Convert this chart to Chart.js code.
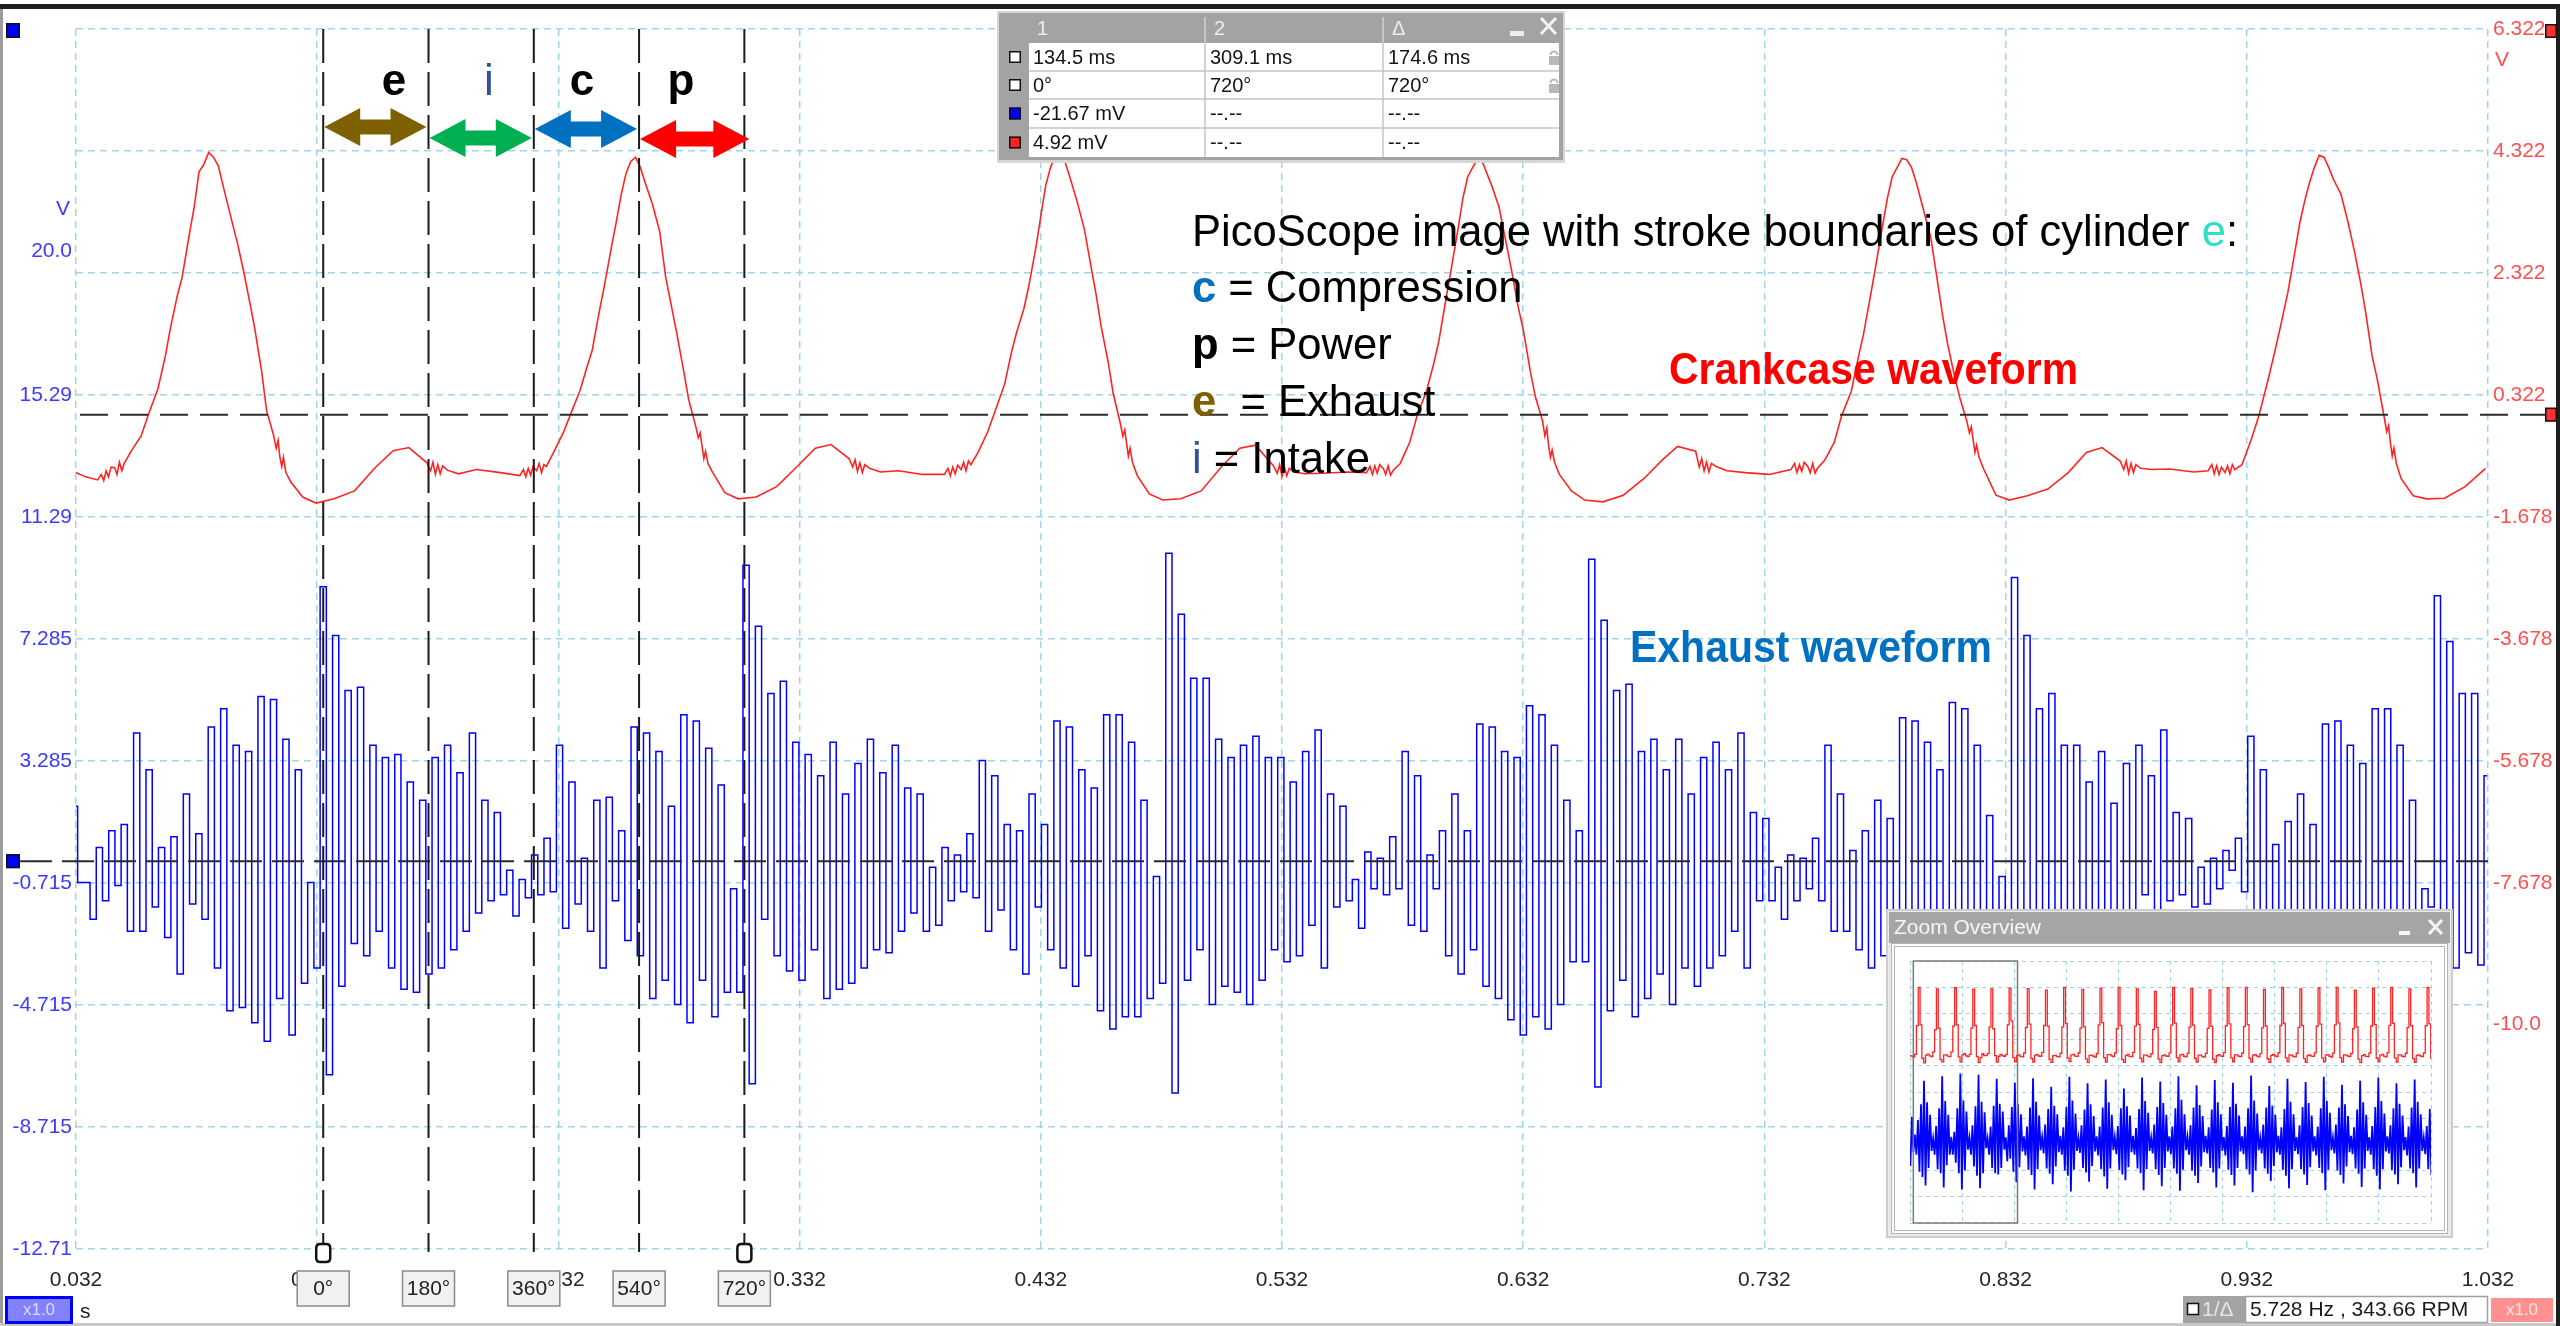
<!DOCTYPE html>
<html><head><meta charset="utf-8">
<script src="https://cdn.jsdelivr.net/npm/chart.js@4.4.1/dist/chart.umd.min.js"></script>
<style>
html,body{margin:0;padding:0;background:#fff;overflow:hidden;}
#wrap{position:relative;width:2560px;height:1326px;}
#main{position:absolute;left:0;top:0;}
#ov{position:absolute;left:1886px;top:909px;}
</style></head><body>
<div id="wrap"><canvas id="main" width="2560" height="1326"></canvas><canvas id="ov" width="567" height="329"></canvas></div>
<script>
// ================= DATA =================
const xTickValues = [0.032,0.132,0.232,0.332,0.432,0.532,0.632,0.732,0.832,0.932,1.032];
const xTickLabels = ['0.032','0.132','0.232','0.332','0.432','0.532','0.632','0.732','0.832','0.932','1.032'];
const blueGridValues = [-12.715,-8.715,-4.715,-0.715,3.285,7.285,11.285,15.285,19.285,23.285,27.285];
const blueGridLabels = ['-12.71','-8.715','-4.715','-0.715','3.285','7.285','11.29','15.29','','',''];
const blueEndValue = 20.0, blueEndLabel = '20.0';
const redTickValues = [6.322,4.322,2.322,0.322,-1.678,-3.678,-5.678,-7.678,-10.0];
const redTickLabels = ['6.322','4.322','2.322','0.322','-1.678','-3.678','-5.678','-7.678','-10.0'];
const unitLabel = 'V';
const cursorTimes = [0.1345,0.17815,0.2218,0.26545,0.3091];
const cursorLabels = ['0°','180°','360°','540°','720°'];

// crankcase (red) waveform: peak times, phase offsets from each peak, values per cycle
const redLeadTimes = [0.0315,0.036];
const redLeadValues = [-0.94,-1.02];
const redPeakTimes = [0.088,0.263,0.439,0.614,0.790,0.963];
const redPhase = [-0.047,-0.0455,-0.0445,-0.0435,-0.0425,-0.0415,-0.040,-0.039,-0.038,-0.037,-0.036,-0.033,-0.029,-0.026,-0.022,-0.019,-0.017,-0.014,-0.012,-0.009,-0.007,-0.005,-0.003,-0.001,0.001,0.003,0.005,0.008,0.011,0.0135,0.016,0.018,0.021,0.023,0.026,0.027,0.0278,0.0285,0.0293,0.030,0.031,0.033,0.038,0.0435,0.051,0.0595,0.068,0.0755,0.082,0.0895,0.091,0.092,0.093,0.094,0.095,0.096,0.098,0.1025,0.110,0.120];
const redCycle1 = [-1.07,-0.98,-1.08,-0.92,-1.02,-0.86,-0.87,-0.98,-0.78,-0.92,-0.80,-0.59,-0.35,0.00,0.43,0.95,1.39,1.95,2.25,2.96,3.40,3.98,4.10,4.30,4.22,4.08,3.75,3.27,2.80,2.35,1.85,1.44,0.70,0.07,-0.35,-0.55,-0.42,-0.69,-0.85,-0.70,-0.95,-1.10,-1.35,-1.45,-1.38,-1.25,-0.87,-0.59,-0.54,-0.79,-0.92,-0.78,-0.98,-0.82,-0.97,-0.84,-0.91,-0.97,-0.90,-0.95];
const redCycle2 = [-1.00,-0.90,-1.02,-0.88,-0.99,-0.85,-0.92,-0.80,-0.95,-0.82,-0.85,-0.62,-0.30,0.00,0.40,0.80,1.05,1.70,2.10,2.75,3.16,3.60,3.95,4.15,4.22,4.05,3.80,3.45,3.00,2.25,1.75,1.35,0.70,0.25,-0.20,-0.38,-0.30,-0.50,-0.72,-0.60,-0.80,-0.95,-1.28,-1.38,-1.35,-1.18,-0.85,-0.55,-0.49,-0.72,-0.86,-0.74,-0.93,-0.79,-0.95,-0.82,-0.88,-0.94,-0.92,-0.98];
const redCycle3 = [-0.98,-0.88,-1.00,-0.86,-0.97,-0.83,-0.90,-0.78,-0.92,-0.76,-0.82,-0.62,-0.28,0.05,0.50,1.05,1.35,1.74,2.10,2.75,3.25,3.75,4.05,4.25,4.28,4.15,3.90,3.50,3.05,2.50,1.95,1.45,0.85,0.35,-0.15,-0.35,-0.25,-0.45,-0.68,-0.55,-0.78,-1.00,-1.30,-1.40,-1.38,-1.25,-0.85,-0.55,-0.50,-0.84,-0.96,-0.82,-1.01,-0.86,-1.00,-0.88,-0.94,-0.97,-0.96,-0.94];
const redCycle4 = [-0.95,-0.85,-0.98,-0.84,-0.96,-0.82,-0.88,-0.98,-0.84,-0.99,-0.92,-0.80,-0.45,-0.02,0.40,0.85,1.20,1.90,2.35,3.05,3.55,3.90,4.05,4.18,4.15,3.95,3.75,3.40,2.80,2.30,1.75,1.40,0.70,0.30,-0.10,-0.35,-0.22,-0.50,-0.70,-0.58,-0.78,-0.98,-1.25,-1.40,-1.43,-1.32,-1.05,-0.75,-0.52,-0.60,-0.86,-0.72,-0.92,-0.78,-0.94,-0.80,-0.85,-0.92,-0.95,-0.98];
const redCycle5 = [-0.90,-0.80,-0.95,-0.82,-0.93,-0.78,-0.85,-0.95,-0.80,-0.96,-0.88,-0.75,-0.45,-0.02,0.38,0.95,1.30,1.95,2.40,3.10,3.55,3.90,4.05,4.20,4.18,4.05,3.80,3.35,2.90,2.25,1.60,1.15,0.60,0.28,-0.12,-0.30,-0.20,-0.40,-0.62,-0.50,-0.70,-0.90,-1.32,-1.40,-1.33,-1.22,-0.95,-0.62,-0.54,-0.76,-0.90,-0.76,-0.96,-0.80,-0.95,-0.82,-0.88,-0.90,-0.89,-0.94];
const redCycle6 = [-0.92,-0.82,-0.97,-0.84,-0.98,-0.86,-0.95,-0.84,-0.97,-0.82,-0.90,-0.82,-0.39,-0.02,0.60,1.10,1.45,2.00,2.45,3.15,3.50,3.80,4.05,4.25,4.22,4.05,3.85,3.62,3.15,2.70,2.20,1.75,0.95,0.60,-0.05,-0.28,-0.18,-0.45,-0.68,-0.55,-0.80,-1.05,-1.33,-1.38,-1.37,-1.18,-0.88];

// exhaust (blue) waveform: uniformly sampled peaks / troughs
const blueStart = 0.03138, blueStep = 0.002578;
const blueCycle0Tail = [1.8,-0.7,-0.7,-1.9,0.45,-1.3,1.0,-0.8,1.2,-2.3,4.2,-2.3,3.0,-1.5,0.45,-2.5,0.8,-3.7,2.2,-1.4,0.9,-1.9,4.4,-3.5,5.0,-4.9,3.8,-4.8,3.6,-5.3,5.4,-5.9,5.3,-4.5,4.0,-5.7,3.0,-4.0,-0.7,-3.5];
const blueCycle1 = [9.0,-7.0,7.4,-4.1,5.6,-2.7,5.7,-3.1,3.8,-2.3,3.4,-3.5,3.5,-4.2,2.6,-4.3,2.0,-3.7,3.4,-3.5,3.8,-2.9,2.9,-2.3,4.2,-1.7,2.0,-1.3,1.6,-1.1,-0.3,-1.8,-0.6,-1.2,0.2,-1.1,0.75,-1.0,3.8,-2.2,2.6,-1.4,0.1,-2.3,2.0,-3.5,2.1,-1.3,1.0,-2.6,4.4,-3.1,4.2,-4.5,3.6,-3.9,1.8,-4.7,4.8,-5.3,4.6,-3.9,3.7,-5.1,2.5,-4.3,-0.9,-4.3];
const blueCycle2 = [9.7,-7.3,7.7,-1.9,5.5,-3.1,5.9,-3.6,3.9,-3.9,3.5,-2.9,2.8,-4.5,3.9,-4.2,2.2,-4.0,3.2,-3.5,4.0,-2.9,2.9,-3.0,3.8,-2.3,2.4,-1.7,2.2,-2.3,-0.2,-2.1,0.45,-1.3,0.2,-1.0,0.9,-1.2,3.3,-2.3,2.8,-1.6,1.2,-2.9,1.0,-3.7,2.2,-1.5,1.2,-2.9,4.6,-3.5,4.4,-4.1,3.0,-3.1,2.4,-4.9,4.8,-5.5,4.8,-5.1,3.9,-5.1,2.0,-4.5,-0.5,-4.0];
const blueCycle3 = [10.1,-7.6,8.1,-3.9,6.0,-2.9,6.0,-4.7,4.0,-4.1,3.4,-4.3,3.8,-4.7,4.1,-3.9,3.4,-2.9,3.4,-3.3,2.6,-3.1,3.6,-2.1,4.3,-3.5,2.2,-1.5,1.8,-1.3,-0.6,-2.2,0.3,-0.9,0.1,-1.1,0.8,-0.9,3.6,-2.1,2.8,-2.3,0.2,-0.9,1.0,-3.1,2.2,-3.7,1.0,-2.9,4.5,-4.1,4.4,-4.5,3.6,-5.2,3.4,-5.7,5.1,-5.1,4.8,-5.5,3.8,-4.7,2.0,-3.3,1.0,-3.3];
const blueCycle4 = [9.9,-7.4,7.9,-4.9,5.6,-3.9,5.8,-5.1,3.6,-4.5,4.0,-3.7,3.0,-4.7,4.0,-3.5,2.2,-4.1,3.4,-3.5,3.9,-3.1,3.0,-2.3,4.2,-3.5,1.6,-1.3,1.4,-1.3,-0.2,-1.9,0.2,-1.3,0.1,-0.9,0.75,-1.3,3.8,-2.3,2.2,-2.3,0.35,-2.9,1.0,-3.5,2.0,-3.1,1.4,-3.5,4.7,-4.3,4.6,-4.7,3.9,-5.1,3.0,-4.7,5.2,-5.3,5.0,-5.1,3.8,-3.3,1.5,-3.5,-0.5,-3.0];
const blueCycle5 = [9.3,-5.3,7.4,-4.1,5.0,-3.3,5.5,-4.3,3.8,-2.9,3.8,-3.7,2.6,-3.3,3.6,-2.3,1.9,-2.9,3.2,-2.3,3.8,-1.1,2.8,-1.9,4.3,-1.3,1.6,-1.1,1.4,-1.5,-0.2,-1.4,0.1,-0.9,0.35,-0.3,0.75,-1.0,4.1,-3.3,3.0,-3.5,0.55,-2.7,1.3,-2.9,2.2,-4.1,1.2,-3.9,4.5,-2.9,4.6,-3.7,3.8,-3.5,3.2,-4.7,5.0,-4.9,5.0,-2.7,3.8,-3.7,2.0,-3.0,-0.9,-1.5];
const blueCycle6 = [8.7,-4.5,7.2,-3.5,5.5,-3.0,5.5,-3.4,2.8];

// zoom overview (5 s capture)
const ovRedStart = 0.0008, ovRedStep = 0.01744;
const ovRed = [
-0.90,-0.94,-1.02,-0.80,1.39,4.30,1.44,-1.10,-1.45,-0.87,
-0.79,-0.92,-0.98,-0.62,1.09,4.20,1.19,-1.20,-1.38,-0.85,
-0.84,-0.94,-0.97,-0.62,1.35,4.28,1.45,-1.00,-1.40,-0.85,
-0.75,-0.92,-0.98,-0.80,1.20,4.18,1.40,-0.98,-1.43,-1.05,
-0.76,-0.89,-0.90,-0.75,1.30,4.20,1.15,-0.90,-1.40,-0.95,
-0.80,-0.90,-0.95,-0.82,1.45,4.25,1.75,-1.05,-1.38,-0.88,
-0.85,-0.96,-1.00,-0.70,1.25,4.22,1.50,-1.12,-1.40,-0.86,
-0.82,-0.93,-0.95,-0.66,1.40,4.10,1.35,-1.18,-1.42,-0.90,
-0.88,-0.97,-0.99,-0.72,1.30,4.30,1.55,-1.08,-1.36,-0.84,
-0.80,-0.94,-0.96,-0.68,1.20,4.15,1.30,-1.15,-1.44,-0.88,
-0.86,-0.95,-1.01,-0.74,1.45,4.25,1.62,-1.05,-1.39,-0.83,
-0.83,-0.92,-0.97,-0.70,1.15,4.30,1.40,-1.20,-1.41,-0.89,
-0.81,-0.96,-0.98,-0.65,1.35,4.20,1.48,-1.10,-1.37,-0.86,
-0.87,-0.94,-1.00,-0.76,1.10,4.00,1.25,-1.16,-1.43,-0.90,
-0.84,-0.93,-0.96,-0.69,1.42,4.30,1.58,-1.06,-1.38,-0.85,
-0.80,-0.95,-0.99,-0.71,1.28,4.22,1.42,-1.12,-1.40,-0.87,
-0.86,-0.97,-1.02,-0.73,1.18,4.12,1.33,-1.18,-1.44,-0.91,
-0.82,-0.92,-0.95,-0.67,1.38,4.28,1.52,-1.08,-1.37,-0.84,
-0.85,-0.95,-0.98,-0.70,1.32,4.30,1.47,-1.11,-1.39,-0.86,
-0.83,-0.94,-1.00,-0.75,1.22,4.16,1.36,-1.14,-1.42,-0.88,
-0.81,-0.93,-0.97,-0.68,1.40,4.30,1.55,-1.07,-1.38,-0.85,
-0.87,-0.96,-0.99,-0.72,1.26,4.20,1.40,-1.13,-1.41,-0.89,
-0.84,-0.94,-0.96,-0.69,1.34,4.26,1.50,-1.09,-1.37,-0.86,
-0.82,-0.95,-1.01,-0.71,1.44,4.30,1.60,-1.06,-1.40,-0.84,
-0.86,-0.93,-0.98,-0.74,1.16,4.10,1.30,-1.17,-1.43,-0.90,
-0.83,-0.96,-0.97,-0.70,1.36,4.24,1.46,-1.10,-1.38,-0.87,
-0.80,-0.94,-1.00,-0.67,1.41,4.30,1.56,-1.08,-1.39,-0.85,
-0.85,-0.95,-0.99,-0.72,1.24,4.20,1.38,-1.13,-1.42,-0.88,
-0.84,-0.93,-0.97,-0.70,1.38,4.30,1.52,-1.09,-1.40,-0.86];
const ovBlueStart = 0.0037, ovBlueStep = 0.014533;
const ovBlue = [
-4.0,3.5,-1.9,0.8,-2.3,3.0,-4.9,5.4,-5.7,
9.0,-7.0,5.7,-4.3,3.8,-1.7,0.2,-2.3,2.1,-4.5,4.8,-5.1,
9.7,-7.3,5.9,-3.9,3.8,-2.3,0.45,-2.3,1.2,-3.5,4.8,-5.1,
10.1,-7.6,6.0,-4.7,4.3,-1.5,0.3,-2.3,2.2,-4.1,5.1,-5.5,
9.9,-7.4,5.8,-5.1,4.2,-1.3,0.2,-2.3,2.0,-4.3,5.2,-5.1,
9.3,-5.3,5.5,-4.3,4.3,-1.5,0.35,-3.3,2.2,-2.9,5.0,-4.9,
8.7,-6.5,5.5,-4.2,3.9,-1.8,0.5,-2.4,2.0,-4.6,4.9,-5.4,
9.4,-7.6,5.8,-4.5,3.7,-1.6,0.4,-2.1,2.3,-4.4,4.7,-5.2,
8.1,-6.8,5.2,-4.1,3.9,-1.9,0.6,-2.3,1.9,-4.7,5.0,-5.5,
9.6,-7.9,6.0,-4.6,4.0,-1.7,0.3,-2.0,2.2,-4.3,4.6,-5.0,
8.6,-6.4,5.4,-4.0,3.6,-1.8,0.5,-2.4,2.0,-4.5,4.9,-5.6,
9.2,-7.5,5.7,-4.4,3.8,-1.6,0.4,-2.2,2.1,-4.6,4.8,-5.3,
7.8,-6.2,5.1,-4.2,3.7,-1.9,0.6,-2.3,1.8,-4.4,4.7,-5.1,
9.5,-7.7,5.9,-4.5,4.1,-1.7,0.3,-2.1,2.3,-4.5,5.0,-5.4,
8.9,-7.1,5.6,-4.3,3.8,-1.8,0.5,-2.2,2.0,-4.4,4.8,-5.2,
9.7,-7.8,6.1,-4.6,3.9,-1.6,0.4,-2.3,2.2,-4.7,4.9,-5.5,
8.3,-6.6,5.3,-4.1,3.6,-1.9,0.6,-2.1,1.9,-4.3,4.6,-5.0,
9.1,-7.3,5.7,-4.4,3.9,-1.7,0.4,-2.4,2.1,-4.6,5.0,-5.4,
8.7,-7.0,5.5,-4.3,3.7,-1.8,0.5,-2.2,2.0,-4.5,4.8,-5.3,
9.8,-8.0,6.0,-4.7,4.0,-1.6,0.3,-2.1,2.3,-4.4,4.9,-5.2,
8.2,-6.3,5.2,-4.0,3.8,-1.9,0.6,-2.3,1.9,-4.6,4.7,-5.5,
9.3,-7.4,5.8,-4.5,3.9,-1.7,0.4,-2.2,2.2,-4.5,5.0,-5.3,
8.8,-6.9,5.6,-4.2,3.7,-1.8,0.5,-2.4,2.0,-4.3,4.8,-5.1,
9.6,-7.7,5.9,-4.6,4.1,-1.6,0.3,-2.1,2.3,-4.7,4.9,-5.4,
8.4,-6.7,5.4,-4.1,3.6,-1.9,0.6,-2.2,1.9,-4.4,4.6,-5.2,
9.0,-7.2,5.7,-4.4,3.8,-1.7,0.4,-2.3,2.1,-4.5,5.0,-5.5,
9.5,-7.6,5.9,-4.5,4.0,-1.8,0.5,-2.1,2.2,-4.6,4.8,-5.3,
8.6,-6.8,5.5,-4.2,3.7,-1.6,0.4,-2.4,2.0,-4.4,4.9,-5.1,
9.2,-7.3,5.8,-4.4,3.9,-1.7,0.3,-2.2,2.1,-4.5,4.7,-5.4];
const ovWindow = [0.032,1.032];

// texts
const panelHeader = ['1','2','Δ'];
const panelRows = [['134.5 ms','309.1 ms','174.6 ms'],['0°','720°','720°'],['-21.67 mV','--.--','--.--'],['4.92 mV','--.--','--.--']];
const noteLines = [
 [['PicoScope image with stroke boundaries of cylinder ','n','#000'],['e','n','#2fe0c6'],[':','n','#000']],
 [['c','b','#0070c0'],[' = Compression','n','#000']],
 [['p','b','#000'],[' = Power','n','#000']],
 [['e','b','#7f6000'],['  = Exhaust','n','#000']],
 [['i','n','#2f5597'],[' = Intake','n','#000']]
];
const crankLabel = 'Crankcase waveform';
const exhaustLabel = 'Exhaust waveform';
const strokeLetters = [['e','#000','bold'],['i','#2f5597',''],['c','#000','bold'],['p','#000','bold']];
const strokeColors = ['#7f6000','#00b050','#0070c0','#ff0000'];
const statusText = '5.728 Hz , 343.66 RPM';

// ================= STYLE =================
const F = '"Liberation Sans", Arial, sans-serif';
const GRID = '#a3d4e6';
const BLUE_LBL = '#3b3bff', RED_LBL = '#ff4f4f';

// ================= BUILD SERIES =================
const redData = [];
redLeadTimes.forEach((t,i)=>redData.push({x:t,y:redLeadValues[i]}));
[redCycle1,redCycle2,redCycle3,redCycle4,redCycle5,redCycle6].forEach((vals,c)=>{
  vals.forEach((v,i)=>redData.push({x:redPeakTimes[c]+redPhase[i], y:v}));
});
const blueValues = [].concat(blueCycle0Tail,blueCycle1,blueCycle2,blueCycle3,blueCycle4,blueCycle5,blueCycle6);
const blueData = blueValues.map((v,i)=>({x:blueStart+i*blueStep, y:v}));
const ovRedData = ovRed.map((v,i)=>({x:ovRedStart+i*ovRedStep, y:v}));
const ovBlueData = ovBlue.map((v,i)=>({x:ovBlueStart+i*ovBlueStep, y:v}));
const blueTickValues = blueGridValues.concat([blueEndValue]).sort((a,b)=>a-b);
function blueLabelFor(v){ if (v===blueEndValue) return blueEndLabel; const i=blueGridValues.indexOf(v); return i>=0?blueGridLabels[i]:''; }

// ================= HELPERS =================
function rr(ctx,x,y,w,h,r){ctx.beginPath();ctx.moveTo(x+r,y);ctx.lineTo(x+w-r,y);ctx.quadraticCurveTo(x+w,y,x+w,y+r);ctx.lineTo(x+w,y+h-r);ctx.quadraticCurveTo(x+w,y+h,x+w-r,y+h);ctx.lineTo(x+r,y+h);ctx.quadraticCurveTo(x,y+h,x,y+h-r);ctx.lineTo(x,y+r);ctx.quadraticCurveTo(x,y,x+r,y);ctx.closePath();}
function fontOf(w,size){return (w==='b'?'bold ':'')+size+'px '+F;}
function runsWidth(ctx,runs,size){let w=0;runs.forEach(r=>{ctx.font=fontOf(r[1],size);w+=ctx.measureText(r[0]).width;});return w;}
function drawRuns(ctx,runs,x,y,size,sx){ctx.save();ctx.translate(x,y);ctx.scale(sx,1);let cx=0;runs.forEach(r=>{ctx.font=fontOf(r[1],size);ctx.fillStyle=r[2];ctx.fillText(r[0],cx,0);cx+=ctx.measureText(r[0]).width;});ctx.restore();}
function fitText(ctx,text,font,color,x,y,width){ctx.save();ctx.font=font;const w=ctx.measureText(text).width;ctx.translate(x,y);ctx.scale(width/w,1);ctx.fillStyle=color;ctx.fillText(text,0,0);ctx.restore();}
function arrow(ctx,x1,x2,yc,color){const hl=36,hh=38,sh=15;ctx.fillStyle=color;ctx.beginPath();ctx.moveTo(x1,yc);ctx.lineTo(x1+hl,yc-hh/2);ctx.lineTo(x1+hl,yc-sh/2);ctx.lineTo(x2-hl,yc-sh/2);ctx.lineTo(x2-hl,yc-hh/2);ctx.lineTo(x2,yc);ctx.lineTo(x2-hl,yc+hh/2);ctx.lineTo(x2-hl,yc+sh/2);ctx.lineTo(x1+hl,yc+sh/2);ctx.lineTo(x1+hl,yc+hh/2);ctx.closePath();ctx.fill();}
function marker(ctx,x,y,w,h,color){ctx.fillStyle=color;ctx.fillRect(x,y,w,h);ctx.strokeStyle='#111';ctx.lineWidth=1.5;ctx.strokeRect(x+0.75,y+0.75,w-1.5,h-1.5);}
function line(ctx,x1,y1,x2,y2){ctx.beginPath();ctx.moveTo(x1,y1);ctx.lineTo(x2,y2);ctx.stroke();}

// ================= MAIN OVERLAY PLUGIN =================
const overlay = {
 id:'overlay',
 beforeDraw(chart){const c=chart.ctx;c.save();c.fillStyle='#fff';c.fillRect(0,0,chart.width,chart.height);c.restore();},
 afterDraw(chart){
  const ctx=chart.ctx, xs=chart.scales.x, yB=chart.scales.yB, yR=chart.scales.yR, a=chart.chartArea;
  ctx.save();
  // window frame
  ctx.fillStyle='#1e1e1e'; ctx.fillRect(0,4,2560,5); ctx.fillRect(2556,4,4,1322);
  ctx.fillStyle='#9c9c9c'; ctx.fillRect(0,9,3,1314);
  ctx.fillStyle='#c8c8c8'; ctx.fillRect(0,1323,2556,3);
  // zero reference lines
  const yr0=yR.getPixelForValue(0), yb0=yB.getPixelForValue(0);
  ctx.strokeStyle='#2a2a2a'; ctx.lineWidth=2;
  ctx.setLineDash([28,12]); line(ctx,80,yr0,2545,yr0);
  ctx.setLineDash([32,10]); line(ctx,20,yb0,a.right,yb0);
  // cursors
  const cx=cursorTimes.map(t=>xs.getPixelForValue(t));
  ctx.strokeStyle='#1a1a1a'; ctx.setLineDash([34,9]);
  cx.forEach(x=>line(ctx,x,a.top,x,a.bottom+3));
  ctx.setLineDash([]);
  [0,cx.length-1].forEach(i=>{rr(ctx,cx[i]-7,a.bottom-5,14,18,4);ctx.fillStyle='#fff';ctx.fill();ctx.lineWidth=2.5;ctx.strokeStyle='#111';ctx.stroke();});
  // channel markers
  marker(ctx,6,23,14,15,'#0000ff'); marker(ctx,6,yb0-7,14,14,'#0000ff');
  marker(ctx,2545,24,12,14,'#ff3030'); marker(ctx,2545,yr0-7,12,14,'#ff3030');
  // units
  ctx.font='21px '+F; ctx.textBaseline='middle';
  ctx.fillStyle=BLUE_LBL; ctx.textAlign='right'; ctx.fillText(unitLabel,70,yB.getPixelForValue(blueEndValue)-42);
  ctx.fillStyle=RED_LBL; ctx.textAlign='left'; ctx.fillText(unitLabel,2495,yR.getPixelForValue(redTickValues[0])+31);
  // stroke arrows + letters
  const arrowY=[127,138,129,139];
  for(let i=0;i<4;i++){ arrow(ctx,cx[i]+1,cx[i+1]-(i===3?-5:2),arrowY[i],strokeColors[i]); }
  const letterX=[394,489,582,681];
  ctx.textAlign='center'; ctx.textBaseline='alphabetic';
  strokeLetters.forEach((l,i)=>{ctx.font=(l[2]?'bold ':'')+'44px '+F;ctx.fillStyle=l[1];ctx.fillText(l[0],letterX[i],95);});
  // notes
  ctx.textAlign='left';
  const sx=1046/runsWidth(ctx,noteLines[0],45);
  const noteBase=[246,302,359,416,473];
  noteLines.forEach((runs,i)=>drawRuns(ctx,runs,1192,noteBase[i],45,sx));
  fitText(ctx,crankLabel,'bold 44px '+F,'#ff0000',1669,384,409);
  fitText(ctx,exhaustLabel,'bold 44px '+F,'#0070c0',1630,662,362);
  // measurement panel
  ctx.fillStyle='#d6d6d6'; ctx.fillRect(997,11,568,152);
  ctx.fillStyle='#a3a3a3'; ctx.fillRect(999,13,564,147);
  ctx.fillStyle='#fff'; ctx.fillRect(1029,43,530,114);
  ctx.strokeStyle='#c4c4c4'; ctx.lineWidth=1.5;
  [71,99,128].forEach(y=>line(ctx,1029,y,1559,y));
  [1205,1383].forEach(x=>line(ctx,x,43,x,157));
  ctx.strokeStyle='#d2d2d2'; [1205,1383].forEach(x=>line(ctx,x,17,x,43));
  const colX=[1033,1210,1388], rowMid=[57,85,113.5,142.5];
  ctx.font='20px '+F; ctx.textBaseline='middle'; ctx.textAlign='left';
  ctx.fillStyle='#ededed'; panelHeader.forEach((h,i)=>ctx.fillText(h,colX[i]+4,29));
  ctx.fillRect(1510,31,14,5);
  ctx.strokeStyle='#f2f2f2'; ctx.lineWidth=3; line(ctx,1541,18,1556,34); line(ctx,1556,18,1541,34);
  const sq=['#ffffff','#ffffff','#0000ff','#ff2020'];
  rowMid.forEach((m,r)=>{marker(ctx,1009,m-6,12,12,sq[r]);});
  ctx.fillStyle='#141414';
  panelRows.forEach((row,r)=>row.forEach((t,c)=>ctx.fillText(t,colX[c],rowMid[r]+1)));
  [0,1].forEach(r=>{const m=rowMid[r];ctx.fillStyle='#b8b8b8';ctx.fillRect(1549,m-1,10,9);ctx.strokeStyle='#b8b8b8';ctx.lineWidth=2;ctx.beginPath();ctx.arc(1554,m-2,3.5,Math.PI,0);ctx.stroke();});
  // cursor label boxes
  ctx.font='21px '+F; ctx.textAlign='center';
  cursorLabels.forEach((t,i)=>{ctx.fillStyle='#f1f1f1';ctx.fillRect(cx[i]-26,1271,52,35);ctx.strokeStyle='#8a8a8a';ctx.lineWidth=1.5;ctx.strokeRect(cx[i]-26,1271,52,35);ctx.fillStyle='#222';ctx.fillText(t,cx[i],1289);});
  // status bar
  ctx.fillStyle='#8282ff'; ctx.fillRect(5,1296,68,28); ctx.strokeStyle='#0000ff'; ctx.lineWidth=3; ctx.strokeRect(6.5,1297.5,65,25);
  ctx.fillStyle='#dcdcff'; ctx.font='17px '+F; ctx.fillText('x1.0',39,1310);
  ctx.fillStyle='#222'; ctx.font='21px '+F; ctx.textAlign='left'; ctx.textBaseline='alphabetic'; ctx.fillText('s',80,1318);
  ctx.fillStyle='#a3a3a3'; ctx.fillRect(2183,1296,62,27);
  ctx.fillStyle='#fff'; ctx.fillRect(2187,1303,12,12); ctx.strokeStyle='#111'; ctx.lineWidth=1.5; ctx.strokeRect(2187.5,1303.5,11,11);
  ctx.fillStyle='#e4e4e4'; ctx.textBaseline='middle'; ctx.fillText('1/Δ',2202,1310);
  ctx.fillStyle='#fff'; ctx.fillRect(2245,1296,243,27); ctx.strokeStyle='#a0a0a0'; ctx.lineWidth=1.5; ctx.strokeRect(2245.5,1296.5,242,26);
  ctx.fillStyle='#1a1a1a'; ctx.fillText(statusText,2250,1310);
  ctx.fillStyle='#ff9090'; ctx.fillRect(2491,1298,62,24);
  ctx.fillStyle='#ffe4e4'; ctx.font='17px '+F; ctx.textAlign='center'; ctx.fillText('x1.0',2522,1310);
  ctx.restore();
 }
};

// ================= MAIN CHART =================
new Chart(document.getElementById('main'),{
 type:'line',
 data:{datasets:[
  {data:redData,yAxisID:'yR',xAxisID:'x',borderColor:'#ff2424',borderWidth:1.6,pointRadius:0,tension:0},
  {data:blueData,yAxisID:'yB',xAxisID:'x',borderColor:'#0000ff',borderWidth:1.5,pointRadius:0,stepped:'middle'}
 ]},
 options:{
  responsive:false,animation:false,devicePixelRatio:1,events:[],
  layout:{padding:{top:29,left:0,right:0,bottom:0}},
  plugins:{legend:{display:false},tooltip:{enabled:false}},
  scales:{
   x:{type:'linear',position:'bottom',min:0.032,max:1.032,
      afterBuildTicks:s=>{s.ticks=xTickValues.map(v=>({value:v}));},
      afterFit:s=>{s.height=77;},
      ticks:{autoSkip:false,maxRotation:0,padding:19,color:'#262626',font:{family:F,size:21},callback:(v,i)=>xTickLabels[i]},
      grid:{color:GRID,lineWidth:1.5,drawTicks:false,tickLength:0},
      border:{display:false,dash:[7,5]}},
   yB:{type:'linear',position:'left',min:-12.715,max:27.285,
      afterBuildTicks:s=>{s.ticks=blueTickValues.map(v=>({value:v}));},
      afterFit:s=>{s.width=76;},
      ticks:{autoSkip:false,padding:4,color:BLUE_LBL,font:{family:F,size:21},callback:(v)=>blueLabelFor(v)},
      grid:{color:(c)=>(c.tick&&c.tick.value===blueEndValue)?'rgba(0,0,0,0)':GRID,lineWidth:1.5,drawTicks:false,tickLength:0},
      border:{display:false,dash:[7,5]}},
   yR:{type:'linear',position:'right',min:-13.678,max:6.322,
      afterBuildTicks:s=>{s.ticks=redTickValues.map(v=>({value:v}));},
      afterFit:s=>{s.width=72;},
      ticks:{autoSkip:false,padding:5,color:RED_LBL,font:{family:F,size:21},callback:(v,i)=>redTickLabels[i]},
      grid:{display:false,drawTicks:false,tickLength:0},
      border:{display:false}}
  }
 },
 plugins:[overlay]
});

// ================= ZOOM OVERVIEW CHART =================
const ovChrome = {
 id:'ovChrome',
 beforeDraw(chart){
  const c=chart.ctx; c.save();
  c.fillStyle='#cdcdcd'; c.fillRect(0,0,567,329);
  c.fillStyle='#ebebeb'; c.fillRect(2,2,563,325);
  c.fillStyle='#a5a5a5'; c.fillRect(3,3,561,31);
  c.fillStyle='#ffffff'; c.fillRect(5,34,557,291);
  c.strokeStyle='#b4b4b4'; c.lineWidth=1; c.strokeRect(5.5,34.5,556,290); c.strokeRect(8.5,37.5,550,284);
  c.font='21px '+F; c.fillStyle='#f6f6f6'; c.textBaseline='middle'; c.fillText('Zoom Overview',8,19);
  c.fillRect(513,22,11,4);
  c.strokeStyle='#f4f4f4'; c.lineWidth=3; line(c,543,11,556,25); line(c,556,11,543,25);
  c.restore();
 },
 afterDraw(chart){
  const c=chart.ctx, xs=chart.scales.x, a=chart.chartArea; c.save();
  const x1=xs.getPixelForValue(ovWindow[0]), x2=xs.getPixelForValue(ovWindow[1]);
  c.strokeStyle='#7a7a7a'; c.lineWidth=1.5; c.strokeRect(x1,a.top,x2-x1,a.bottom-a.top);
  c.restore();
 }
};
new Chart(document.getElementById('ov'),{
 type:'line',
 data:{datasets:[
  {data:ovRedData,yAxisID:'yR',borderColor:'#ff2424',borderWidth:1.3,pointRadius:0,stepped:'middle'},
  {data:ovBlueData,yAxisID:'yB',borderColor:'#0000ff',borderWidth:1.8,pointRadius:0}
 ]},
 options:{
  responsive:false,animation:false,devicePixelRatio:1,events:[],
  layout:{padding:{left:24,right:22,top:52,bottom:15}},
  plugins:{legend:{display:false},tooltip:{enabled:false}},
  scales:{
   x:{type:'linear',min:0,max:5,ticks:{display:false,stepSize:0.5},afterFit:s=>{s.height=0;},
      grid:{color:GRID,lineWidth:1,drawTicks:false,tickLength:0},border:{display:false,dash:[4,4]}},
   yB:{type:'linear',position:'left',min:-12.715,max:27.285,
      afterBuildTicks:s=>{s.ticks=blueGridValues.map(v=>({value:v}));},
      afterFit:s=>{s.width=0;},ticks:{display:false},
      grid:{color:GRID,lineWidth:1,drawTicks:false,tickLength:0},border:{display:false,dash:[4,4]}},
   yR:{type:'linear',position:'right',min:-13.678,max:6.322,display:false}
  }
 },
 plugins:[ovChrome]
});
</script>
</body></html>
